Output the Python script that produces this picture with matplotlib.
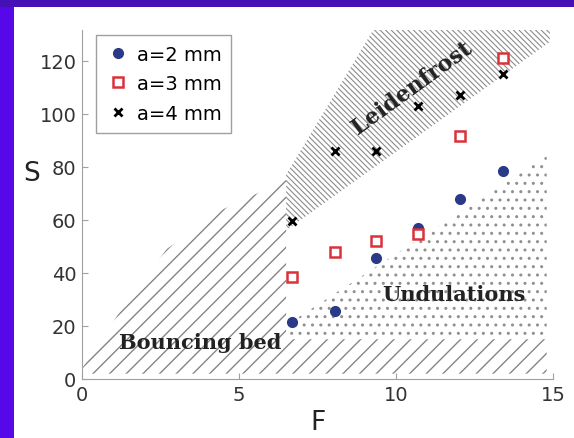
import matplotlib
matplotlib.use('Agg')
import matplotlib.pyplot as plt
from matplotlib.patches import Polygon, Rectangle

plt.rcParams['font.family'] = ['DejaVu Sans']

# measured points: F (Froude) vs S for three amplitudes
F = [6.7, 8.05, 9.35, 10.7, 12.05, 13.4]
S_a2 = [21.5, 25.5, 45.5, 57, 68, 78.5]
S_a3 = [38.5, 48, 52, 54.5, 91.5, 121]
S_a4 = [59.5, 86, 86, 103, 107, 115]
labels = ['a=2 mm', 'a=3 mm', 'a=4 mm']

# phase regions (boundaries)
bounce_F = [0, 0, 1.3, 2.7, 4.5, 6.5, 6.5, 14.8, 14.8]
bounce_S = [2, 4, 27, 49, 64, 75, 15, 15, 2]
leiden_F = [6.5, 6.5, 9.3, 14.9, 14.9]
leiden_S = [56, 77, 132, 132, 127]
undul_F = [6.6, 6.6, 14.8, 14.8]
undul_S = [16, 21, 84, 16]

fig = plt.figure(figsize=(5.74, 4.39), dpi=100)
ax = fig.add_axes([0.1429, 0.1344, 0.8205, 0.795])


def region(xs, ys, color, hatch, lw):
    p = Polygon(list(zip(xs, ys)), closed=True, facecolor='none',
                edgecolor=color, linewidth=0, hatch=hatch)
    if hasattr(p, 'set_hatch_linewidth'):
        p.set_hatch_linewidth(lw)
    ax.add_patch(p)


plt.rcParams['hatch.linewidth'] = 1.0
region(bounce_F, bounce_S, '#858585', '//', 1.0)
region(leiden_F, leiden_S, '#8c8c8c', '\\' * 6, 0.8)
region(undul_F, undul_S, '#909090', '..', 1.0)

ax.plot(F, S_a2, 'o', color='#2b3a88', markersize=7, label=labels[0])
ax.plot(F, S_a3, 's', mfc='white', mec='#d8333a', mew=1.8, markersize=7, label=labels[1])
ax.plot(F, S_a4, 'x', color='black', mew=2, markersize=6, label=labels[2])

ax.text(10.5, 110, 'Leidenfrost', rotation=36, ha='center', va='center',
        family='DejaVu Serif', fontweight='bold', fontsize=16, color='#222222')
ax.text(3.76, 14, 'Bouncing bed', ha='center', va='center',
        family='DejaVu Serif', fontweight='bold', fontsize=15, color='#222222')
ax.text(11.85, 32, 'Undulations', ha='center', va='center',
        family='DejaVu Serif', fontweight='bold', fontsize=15, color='#222222')

ax.set_xlim(0, 15)
ax.set_ylim(0, 131.5)
ax.set_xticks([0, 5, 10, 15])
ax.set_yticks([0, 20, 40, 60, 80, 100, 120])
for s in ['top', 'right']:
    ax.spines[s].set_visible(False)
for s in ['left', 'bottom']:
    ax.spines[s].set_color('#a0a0a0')
ax.tick_params(direction='in', length=4, color='#a0a0a0', labelsize=14,
               labelcolor='#333333', pad=4)

ax.set_xlabel('F', fontsize=19, color='#222222')
ax.set_ylabel('S', fontsize=19, rotation=0, color='#222222')
ax.yaxis.set_label_coords(-0.106, 0.554)

leg = ax.legend(loc='upper left', bbox_to_anchor=(0.03, 0.986), borderaxespad=0,
                fancybox=False, edgecolor='#a0a0a0', fontsize=14, handlelength=1.2,
                handletextpad=0.4, borderpad=0.5, labelspacing=0.55, framealpha=1)
leg.get_frame().set_linewidth(1.0)

# purple frame on left and top edge
fig.add_artist(Rectangle((0, 0), 0.0244, 1, transform=fig.transFigure,
                         facecolor='#5608e8', edgecolor='none'))
fig.add_artist(Rectangle((0, 0.982), 1, 0.018, transform=fig.transFigure,
                         facecolor='#4510b6', edgecolor='none'))

fig.savefig('out.png', dpi=100)
